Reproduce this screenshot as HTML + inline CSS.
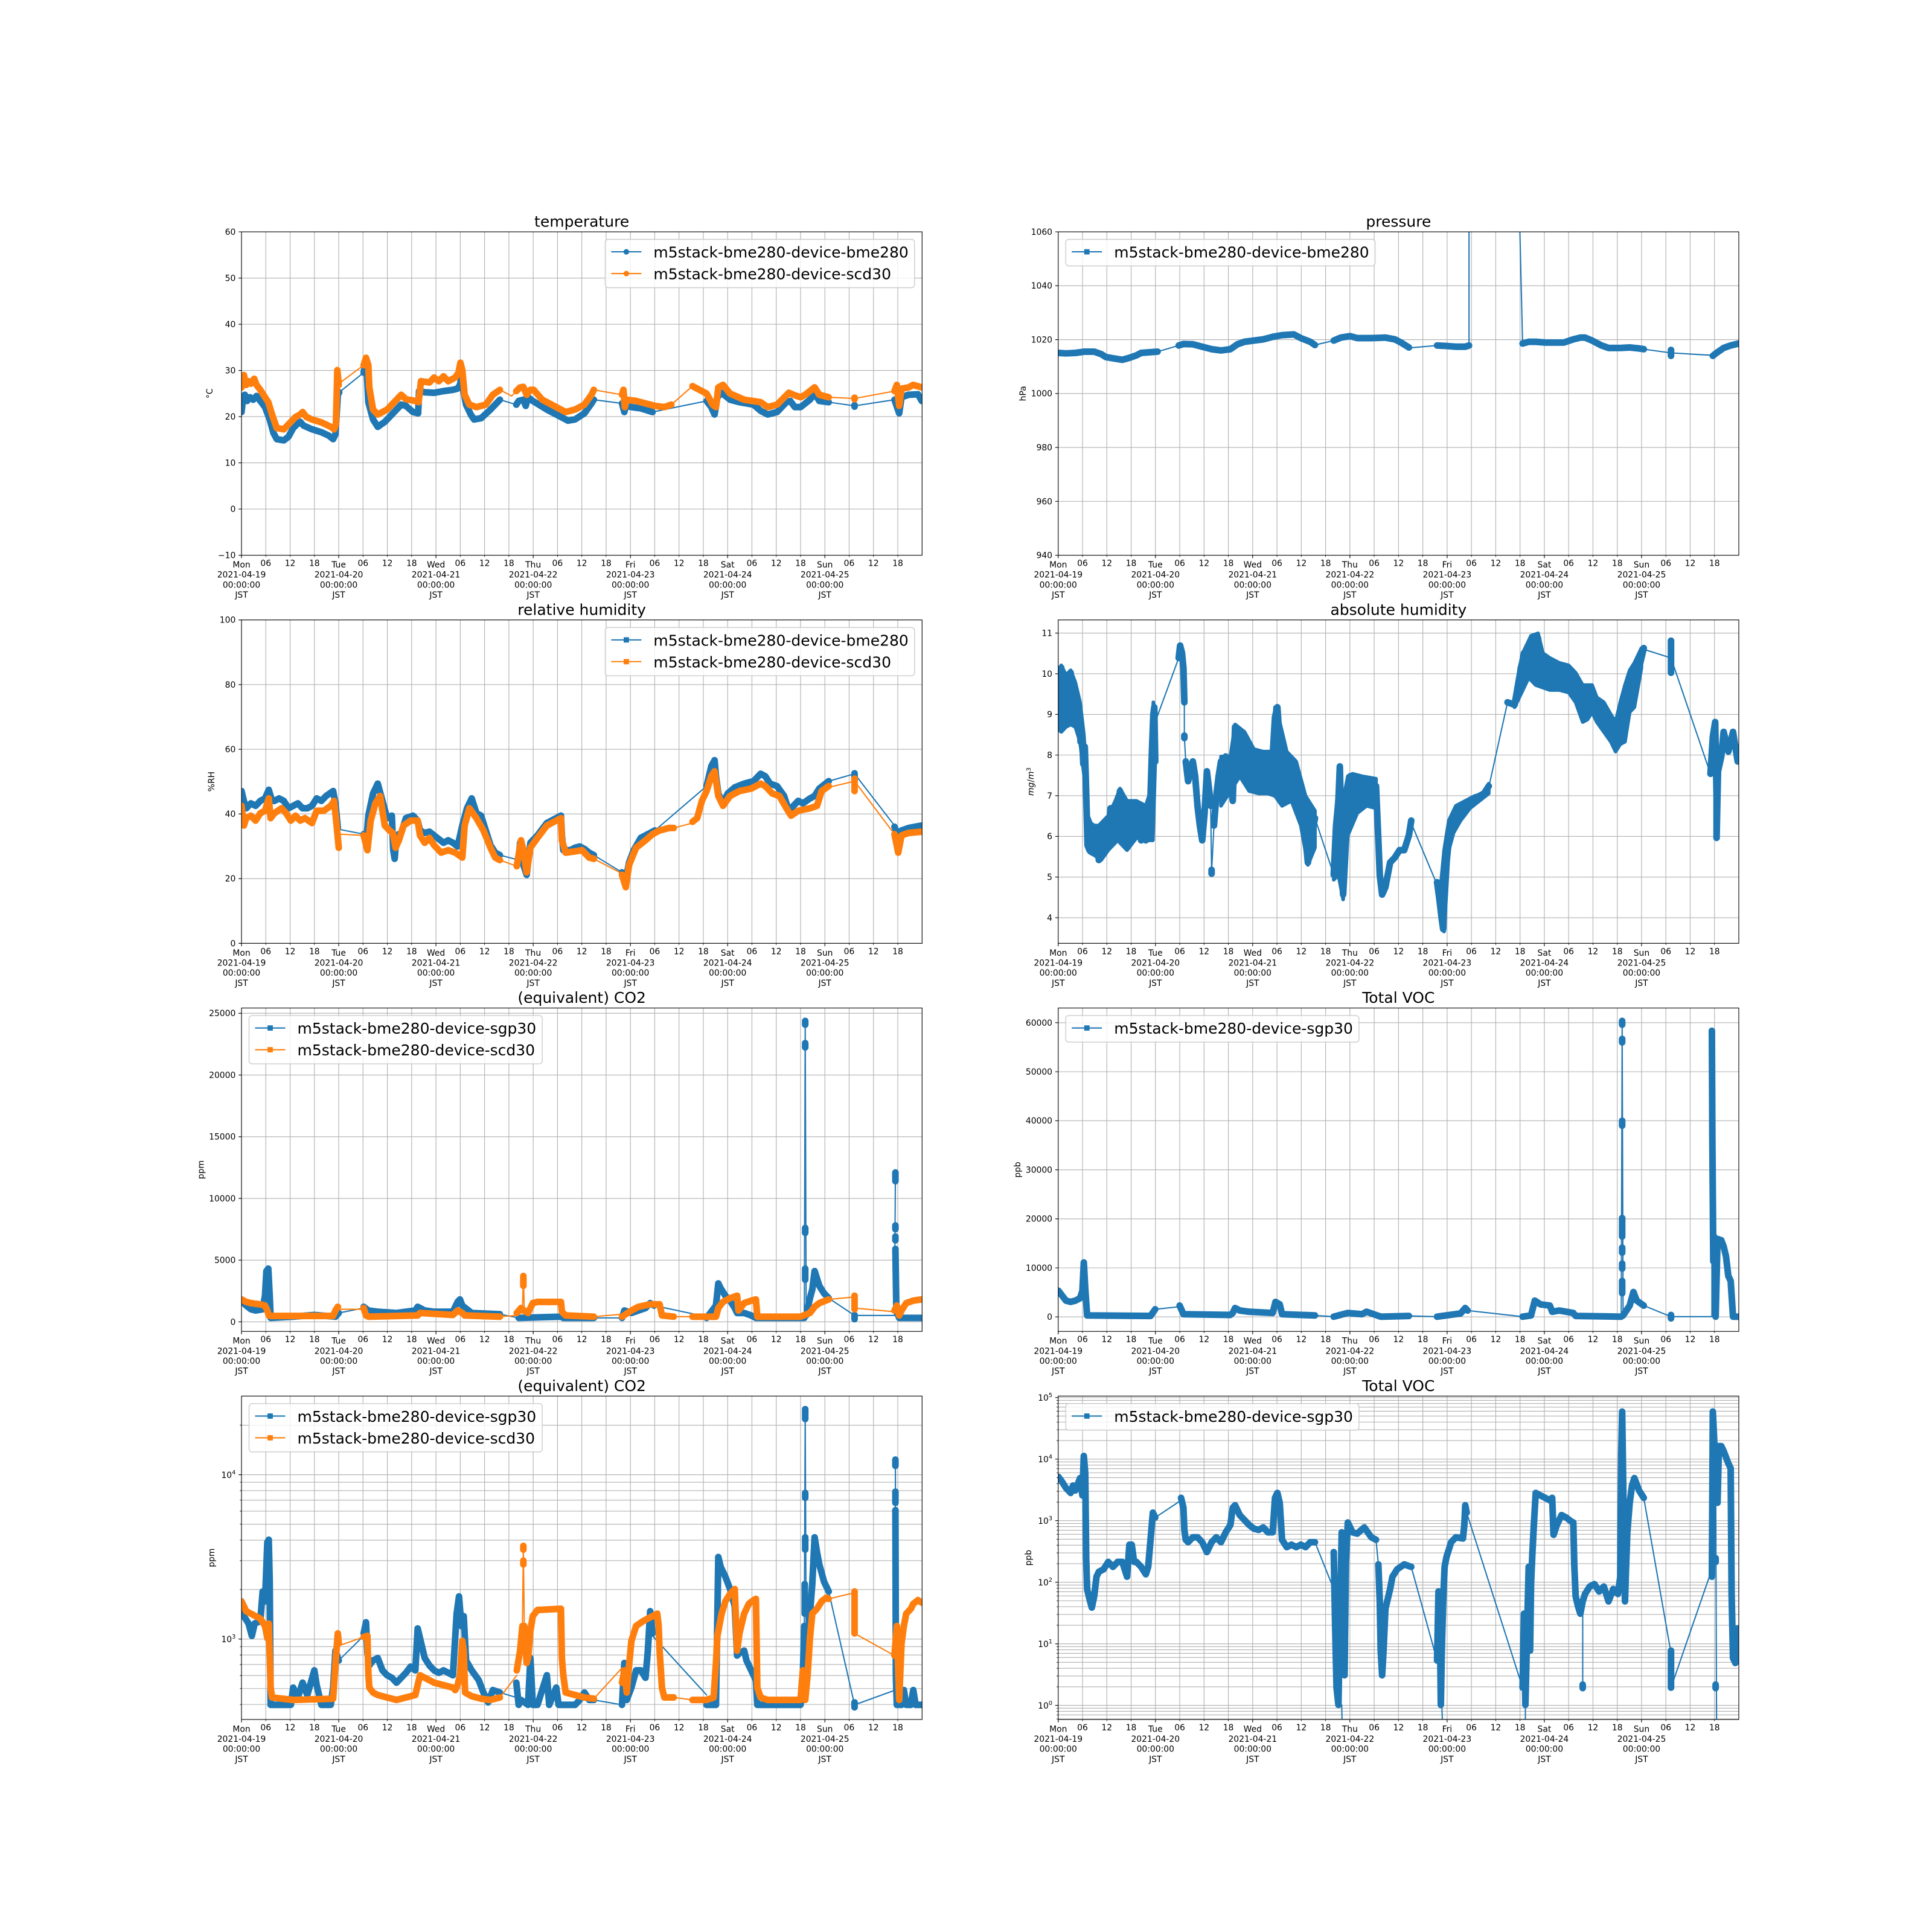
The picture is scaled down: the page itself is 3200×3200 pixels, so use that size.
<!DOCTYPE html>
<html><head><meta charset="utf-8">
<style>
html,body{margin:0;padding:0;background:#fff;width:3200px;height:3200px;overflow:hidden}
svg{display:block}
text{font-family:"DejaVu Sans","Liberation Sans",sans-serif;fill:#000}
.t{font-size:13.89px}
.ti{font-size:25px}
.lg{font-size:25px}
.g{fill:none;stroke:#b0b0b0;stroke-width:1.11}
.k{fill:none;stroke:#000;stroke-width:1.11}
.km{fill:none;stroke:#000;stroke-width:0.83}
polyline{fill:none;vector-effect:non-scaling-stroke;stroke-linejoin:round;stroke-linecap:round}
.cl{fill:#1f77b4;stroke:#1f77b4;stroke-width:6px;vector-effect:non-scaling-stroke;stroke-linejoin:round}
.b{stroke:#1f77b4}.o{stroke:#ff7f0e}
.w{stroke-width:2.08px}
.T{stroke-width:11px}
.fr{fill:#fff;fill-opacity:0.8;stroke:#ccc;stroke-width:1.39}
</style></head><body>
<svg width="3200" height="3200" viewBox="0 0 3200 3200">
<defs>
<clipPath id="c1"><rect x="400" y="384" width="1127.27" height="535.65"/></clipPath>
<clipPath id="c2"><rect x="1752.73" y="384" width="1127.27" height="535.65"/></clipPath>
<clipPath id="c3"><rect x="400" y="1026.78" width="1127.27" height="535.65"/></clipPath>
<clipPath id="c4"><rect x="1752.73" y="1026.78" width="1127.27" height="535.65"/></clipPath>
<clipPath id="c5"><rect x="400" y="1669.57" width="1127.27" height="535.65"/></clipPath>
<clipPath id="c6"><rect x="1752.73" y="1669.57" width="1127.27" height="535.65"/></clipPath>
<clipPath id="c7"><rect x="400" y="2312.35" width="1127.27" height="535.65"/></clipPath>
<clipPath id="c8"><rect x="1752.73" y="2312.35" width="1127.27" height="535.65"/></clipPath>
<path id="vg" d="M40.26 0V535.65M80.52 0V535.65M120.78 0V535.65M161.04 0V535.65M201.3 0V535.65M241.56 0V535.65M281.82 0V535.65M322.08 0V535.65M362.34 0V535.65M402.6 0V535.65M442.86 0V535.65M483.12 0V535.65M523.38 0V535.65M563.64 0V535.65M603.9 0V535.65M644.16 0V535.65M684.42 0V535.65M724.68 0V535.65M764.94 0V535.65M805.19 0V535.65M845.45 0V535.65M885.71 0V535.65M925.97 0V535.65M966.23 0V535.65M1006.49 0V535.65M1046.75 0V535.65M1087.01 0V535.65"/>
<path id="xtM" d="M0 0v4.86M161.04 0v4.86M322.08 0v4.86M483.12 0v4.86M644.16 0v4.86M805.19 0v4.86M966.23 0v4.86"/>
<path id="xtm" d="M40.26 0v2.78M80.52 0v2.78M120.78 0v2.78M201.3 0v2.78M241.56 0v2.78M281.82 0v2.78M362.34 0v2.78M402.6 0v2.78M442.86 0v2.78M523.38 0v2.78M563.64 0v2.78M603.9 0v2.78M684.42 0v2.78M724.68 0v2.78M764.94 0v2.78M845.45 0v2.78M885.71 0v2.78M925.97 0v2.78M1006.49 0v2.78M1046.75 0v2.78M1087.01 0v2.78"/>
</defs>

<!-- ================= GRIDS ================= -->
<g transform="translate(400,384)"><use href="#vg" class="g"/><path class="g" d="M0 76.52H1127.27M0 153.04H1127.27M0 229.56H1127.27M0 306.09H1127.27M0 382.61H1127.27M0 459.13H1127.27"/></g>
<g transform="translate(1752.73,384)"><use href="#vg" class="g"/><path class="g" d="M0 89.28H1127.27M0 178.55H1127.27M0 267.83H1127.27M0 357.1H1127.27M0 446.38H1127.27"/></g>
<g transform="translate(400,1026.78)"><use href="#vg" class="g"/><path class="g" d="M0 107.13H1127.27M0 214.26H1127.27M0 321.39H1127.27M0 428.52H1127.27"/></g>
<g transform="translate(1752.73,1026.78)"><use href="#vg" class="g"/><path class="g" d="M0 21.79H1127.27M0 89.14H1127.27M0 156.49H1127.27M0 223.84H1127.27M0 291.19H1127.27M0 358.54H1127.27M0 425.89H1127.27M0 493.24H1127.27"/></g>
<g transform="translate(400,1669.57)"><use href="#vg" class="g"/><path class="g" d="M0 8.77H1127.27M0 110.98H1127.27M0 213.19H1127.27M0 315.4H1127.27M0 417.61H1127.27M0 519.82H1127.27"/></g>
<g transform="translate(1752.73,1669.57)"><use href="#vg" class="g"/><path class="g" d="M0 24.33H1127.27M0 105.55H1127.27M0 186.77H1127.27M0 267.99H1127.27M0 349.21H1127.27M0 430.43H1127.27M0 511.65H1127.27"/></g>
<g transform="translate(400,2312.35)"><use href="#vg" class="g"/><path class="g" d="M0 130.21H1127.27M0 402.45H1127.27M0 48.25H1127.27M0 142.67H1127.27M0 156.6H1127.27M0 172.39H1127.27M0 190.62H1127.27M0 212.17H1127.27M0 238.55H1127.27M0 272.56H1127.27M0 320.5H1127.27M0 414.91H1127.27M0 428.83H1127.27M0 444.62H1127.27M0 462.85H1127.27M0 484.4H1127.27M0 510.78H1127.27"/></g>
<g transform="translate(1752.73,2312.35)"><use href="#vg" class="g"/><path class="g" d="M0 2.45H1127.27M0 104.41H1127.27M0 206.37H1127.27M0 308.33H1127.27M0 410.29H1127.27M0 512.25H1127.27M0 534.87H1127.27M0 528.04H1127.27M0 522.13H1127.27M0 516.92H1127.27M0 481.56H1127.27M0 463.6H1127.27M0 450.86H1127.27M0 440.98H1127.27M0 432.91H1127.27M0 426.08H1127.27M0 420.17H1127.27M0 414.96H1127.27M0 379.6H1127.27M0 361.64H1127.27M0 348.9H1127.27M0 339.02H1127.27M0 330.95H1127.27M0 324.12H1127.27M0 318.21H1127.27M0 313H1127.27M0 277.64H1127.27M0 259.68H1127.27M0 246.94H1127.27M0 237.06H1127.27M0 228.99H1127.27M0 222.16H1127.27M0 216.25H1127.27M0 211.04H1127.27M0 175.68H1127.27M0 157.72H1127.27M0 144.98H1127.27M0 135.1H1127.27M0 127.03H1127.27M0 120.2H1127.27M0 114.29H1127.27M0 109.08H1127.27M0 73.72H1127.27M0 55.76H1127.27M0 43.02H1127.27M0 33.14H1127.27M0 25.07H1127.27M0 18.24H1127.27M0 12.33H1127.27M0 7.12H1127.27"/></g>

<!-- ================= DATA ================= -->
<!-- 1 temperature -->
<g clip-path="url(#c1)"><g transform="matrix(0.778061 0 0 0.408163 330 360)">
<polyline class="b T" points="90,790 93,740 97,720 102,745 108,730 115,740 122,725 130,745 140,770 150,820 158,875 165,900 180,905 190,890 200,855 208,840 215,830 222,845 240,860 260,872 275,885 285,900 290,880 295,720 298,710"/>
<polyline class="b w" points="298,710 350,630"/>
<polyline class="b T" points="350,630 353,600 357,640 360,750 370,820 380,850 395,830 410,800 430,760 440,765 455,790 466,795 468,705 480,710 500,712 520,705 540,700 550,695 555,680 558,650 562,700 568,760 578,800 585,820 600,815 620,780 640,740"/>
<polyline class="b w" points="640,740 675,760"/>
<polyline class="b T" points="675,760 680,745 690,740 695,765 700,730 710,745 740,780 770,810 785,825 800,820 820,795 835,755 840,740"/>
<polyline class="b w" points="840,740 900,755"/>
<polyline class="b T" points="900,755 905,790 908,765 920,770 940,775 965,790"/>
<polyline class="b w" points="965,790 1080,745"/>
<polyline class="b T" points="1080,745 1090,770 1097,800 1103,730 1112,712 1130,740 1150,750 1180,760 1195,785 1210,800 1230,790 1250,750 1258,745 1268,770 1280,770 1300,740 1310,715 1320,745 1340,750"/>
<polyline class="b w" points="1340,750 1395,765 1480,740"/>
<polyline class="b T" points="1395,762 1395,768"/>
<polyline class="b T" points="1480,740 1490,795 1495,730 1510,720 1530,718 1538,745"/>
<polyline class="o T" points="90,690 95,640 100,680 105,665 110,675 117,655 122,680 130,700 140,730 147,750 155,800 165,855 180,860 195,830 205,810 215,800 220,790 228,810 240,820 260,832 280,850 287,860 291,840 294,620 297,680"/>
<polyline class="o w" points="297,675 350,600"/>
<polyline class="o T" points="350,600 355,570 360,600 362,690 370,780 380,800 400,780 420,740 430,720 440,738 460,745 467,750 470,700 472,665 490,670 500,650 510,665 520,645 530,665 545,650 552,630 556,590 560,620 565,720 575,760 590,770 610,760 625,720 640,700"/>
<polyline class="o w" points="640,700 665,725 675,705"/>
<polyline class="o T" points="675,705 683,690 690,688 697,720 705,700 712,700 730,740 760,770 780,790 800,780 820,760 835,720 840,700"/>
<polyline class="o w" points="840,700 900,720"/>
<polyline class="o T" points="900,720 903,700 906,770 910,740 930,745 950,755 970,765 990,770 1005,760"/>
<polyline class="o w" points="1005,760 1050,685"/>
<polyline class="o T" points="1050,685 1060,695 1080,715 1093,760 1100,770 1105,690 1115,680 1130,715 1160,740 1195,750 1210,770 1230,760 1255,712 1265,720 1280,730 1290,720 1310,690 1320,720 1340,730"/>
<polyline class="o w" points="1340,730 1395,735 1480,705"/>
<polyline class="o T" points="1395,732 1395,738"/>
<polyline class="o T" points="1480,705 1485,680 1490,765 1495,695 1510,690 1520,680 1538,690"/>
</g></g>

<!-- 2 pressure -->
<g clip-path="url(#c2)"><g transform="matrix(0.778061 0 0 0.408163 1680 360)">
<polyline class="b T" points="93,550 110,552 130,550 150,545 170,545 185,555 195,567 210,572 230,578 245,570 260,560 270,550 285,548 305,545"/>
<polyline class="b w" points="305,545 350,520"/>
<polyline class="b T" points="350,520 360,514 380,515 400,525 420,535 440,540 460,535 475,515 490,505 510,500 530,495 550,485 570,478 595,475 610,490 630,505 640,518"/>
<polyline class="b w" points="640,518 680,500"/>
<polyline class="b T" points="680,500 695,488 715,482 730,490 760,490 790,488 810,495 825,510 840,528"/>
<polyline class="b w" points="840,530 900,520"/>
<polyline class="b T" points="900,520 920,522 940,525 960,525 968,520"/>
<polyline class="b w" points="968,520 968,-200"/>
<polyline class="b w" points="1073,-200 1082,510"/>
<polyline class="b T" points="1082,512 1095,505 1110,505 1130,508 1150,508 1170,508 1190,495 1205,488 1215,488 1230,500 1250,520 1265,530 1290,530 1310,528 1330,532 1340,535"/>
<polyline class="b w" points="1340,535 1398,550 1487,560"/>
<polyline class="b T" points="1398,538 1398,562"/>
<polyline class="b T" points="1487,562 1495,550 1510,530 1525,520 1542,512"/>
</g></g>

<!-- 3 relative humidity -->
<g clip-path="url(#c3)"><g transform="matrix(0.778061 0 0 0.408163 330 1000)">
<polyline class="b T" points="90,760 95,800 100,830 110,810 120,820 130,800 140,790 148,755 155,800 160,800 170,790 180,800 190,830 200,820 210,810 220,830 230,830 240,820 250,790 260,800 270,780 285,760 290,810 295,910"/>
<polyline class="b w" points="297,915 350,935"/>
<polyline class="b T" points="350,935 355,975 360,860 370,770 380,730 390,800 400,870 410,860 413,1000 416,1035 420,940 430,930 440,870 455,860 465,880 470,920 480,930 490,925 500,940 510,955 520,970 530,960 540,970 550,985 560,900 570,830 580,790 590,850 600,860 610,920 620,980 630,1010 640,1020"/>
<polyline class="b w" points="640,1020 680,1040"/>
<polyline class="b T" points="680,1040 683,970 690,1060 697,1100 705,970 720,940 740,890 760,870 770,860 772,940 775,1000 790,1000 800,990 810,985 820,995 830,1010 840,1020"/>
<polyline class="b w" points="840,1020 900,1090"/>
<polyline class="b T" points="900,1090 905,1130 910,1100 915,1050 925,1000 940,950 960,930 970,920"/>
<polyline class="b w" points="970,920 1080,740"/>
<polyline class="b T" points="1080,740 1085,700 1090,660 1097,635 1100,700 1105,770 1115,810 1125,770 1140,745 1160,730 1180,720 1195,690 1205,700 1215,730 1230,740 1245,780 1255,840 1265,820 1275,800 1285,810 1300,790 1310,780 1320,750 1340,720"/>
<polyline class="b w" points="1340,720 1395,690 1480,900"/>
<polyline class="b T" points="1395,688 1395,720"/>
<polyline class="b T" points="1480,905 1490,950 1495,920 1510,910 1538,900"/>
<polyline class="o T" points="90,820 95,900 100,870 110,860 120,880 130,850 140,840 148,790 152,870 160,850 175,830 185,850 195,880 205,860 215,880 225,870 240,890 250,840 265,840 280,820 287,800 292,890 297,990"/>
<polyline class="o w" points="297,935 350,940"/>
<polyline class="o T" points="350,940 358,1000 365,880 375,810 385,780 395,900 405,920 412,930 418,990 425,960 435,900 450,880 465,880 470,940 480,970 490,950 500,980 515,1010 530,1000 545,1010 560,1030 565,900 575,830 590,870 605,920 620,990 630,1030 640,1040"/>
<polyline class="o w" points="640,1040 676,1065"/>
<polyline class="o T" points="676,1065 685,960 690,1000 697,1090 705,990 720,950 740,900 760,880 770,870 772,960 780,1010 800,1005 815,1000 830,1030 840,1035"/>
<polyline class="o w" points="840,1035 900,1095"/>
<polyline class="o T" points="900,1100 908,1150 915,1060 930,990 950,960 965,935 980,920 1000,910 1010,910"/>
<polyline class="o w" points="1010,910 1050,890"/>
<polyline class="o T" points="1050,885 1060,870 1070,800 1080,760 1090,700 1097,680 1105,780 1115,820 1130,780 1150,760 1175,750 1195,730 1205,740 1220,770 1235,780 1250,830 1260,860 1275,840 1300,830 1315,820 1325,760 1340,740"/>
<polyline class="o w" points="1340,745 1395,720 1480,935"/>
<polyline class="o T" points="1395,710 1395,760"/>
<polyline class="o T" points="1480,935 1488,1010 1495,940 1510,930 1538,925"/>
</g></g>

<!-- 4 absolute humidity -->
<g clip-path="url(#c4)"><g transform="matrix(0.778061 0 0 0.408163 1680 1000)">
<polygon class="cl" points="94,320 100,250 110,290 120,270 130,320 140,400 148,530 152,650 155,850 150,720 145,640 140,560 130,500 120,490 110,500 100,520 94,510"/>
<polygon class="cl" points="155,850 165,900 180,900 200,860 215,800 225,750 240,800 260,800 280,820 290,760 296,400 300,640 295,960 280,960 260,950 240,1000 220,960 200,1000 185,1040 170,1020 160,1010"/>
<polygon class="cl" points="440,620 460,620 470,490 490,520 510,590 530,600 550,600 555,420 565,480 580,600 600,640 620,780 640,840 640,990 625,1060 610,900 590,800 570,820 555,780 540,770 520,770 500,760 480,700 460,760 440,820"/>
<polygon class="cl" points="685,850 690,700 700,800 710,700 720,690 740,700 770,710 770,830 750,820 730,850 710,940 700,1200 690,1100 680,1120"/>
<polygon class="cl" points="915,1000 925,880 940,820 960,800 980,780 1000,770 1010,730 1010,770 990,800 970,830 950,880 935,930 925,1000 915,1330 905,1200"/>
<polygon class="cl" points="1075,260 1085,190 1100,130 1115,120 1125,200 1140,220 1160,240 1180,250 1195,280 1210,330 1230,330 1240,380 1255,400 1270,450 1280,480 1290,400 1300,330 1310,270 1320,240 1335,180 1335,260 1320,420 1310,440 1300,560 1290,570 1280,600 1270,560 1255,520 1240,480 1230,440 1220,470 1210,480 1195,400 1180,360 1160,350 1140,350 1125,340 1110,330 1095,300 1085,340 1075,380 1065,420"/>
<polyline class="b T" points="94,500 97,320 100,260 103,480 107,350 110,430 113,300 117,480 120,280 123,460 126,350 129,480 132,380 135,500 138,420 141,560 144,530 147,650 150,580 152,700 154,840 156,980 160,1000 165,900 170,1010 175,920 180,1040 185,940 190,1000 195,880 200,960 205,830 210,960 215,820 220,930 225,760 230,900 235,810 240,990 245,860 250,950 255,820 260,920 265,850 270,960 275,860 280,960 285,900 290,780 293,600 296,450 298,420 300,640"/>
<polyline class="b w" points="300,480 350,220"/>
<polyline class="b T" points="350,220 353,170 357,200 360,260 362,400"/>
<polyline class="b w" points="362,400 362,540 365,640"/>
<polyline class="b T" points="362,535 362,545"/>
<polyline class="b T" points="365,640 370,720 380,640 385,700 390,820 395,900 400,960 405,850 410,680 415,760 418,820"/>
<polyline class="b w" points="418,820 420,1090 425,900"/>
<polyline class="b T" points="420,1080 420,1095"/>
<polyline class="b T" points="425,900 430,780 435,700 440,640 445,700 450,620 460,720 465,800 470,500 475,560 480,520 490,600 500,680 510,620 520,750 530,640 540,720 550,620 555,460 560,420 565,560 570,800 575,680 580,620 585,640 590,750 600,700 605,820 610,880 615,850 620,950 625,1050 630,980 640,870"/>
<polyline class="b w" points="640,870 680,1100"/>
<polyline class="b T" points="680,1100 685,900 690,800 693,660 697,1000 700,1180 705,1000 710,800 715,700 725,820 735,760 745,720 755,760 765,800 770,740 775,960 778,1100 783,1180 790,1150 800,1050 810,1030 820,1000 830,1000 840,940 845,880"/>
<polyline class="b w" points="845,890 900,1140"/>
<polyline class="b T" points="900,1130 905,1200 910,1280 913,1320 915,1180 920,1050 925,960 930,900 940,870 950,840 960,830 970,800 980,790 990,780 1000,770 1010,740"/>
<polyline class="b w" points="1010,745 1050,400"/>
<polyline class="b T" points="1050,400 1065,410 1075,300 1085,200 1095,250 1105,140 1115,140 1120,250 1130,300 1140,240 1150,330 1160,260 1170,330 1180,270 1190,340 1200,380 1210,430 1220,410 1230,380 1240,440 1250,480 1260,470 1270,530 1280,560 1290,520 1300,450 1310,400 1315,290 1320,320 1330,260 1340,180"/>
<polyline class="b w" points="1340,185 1398,220"/>
<polyline class="b T" points="1398,150 1398,280"/>
<polyline class="b w" points="1398,220 1482,690"/>
<polyline class="b T" points="1482,690 1487,540 1492,480 1495,780 1495,950 1498,680 1505,620 1510,520 1520,600 1530,520 1540,640"/>
</g></g>

<!-- 5 CO2 linear -->
<g clip-path="url(#c5)"><g transform="matrix(0.778061 0 0 0.408163 330 1640)">
<polyline class="b T" points="90,1260 100,1280 110,1295 120,1300 135,1295 140,1240 143,1140 147,1130 150,1240 152,1330 200,1325 245,1318 290,1325 297,1310"/>
<polyline class="b w" points="297,1310 350,1290"/>
<polyline class="b T" points="350,1285 360,1300 380,1305 420,1310 460,1300 465,1285 480,1300 500,1305 540,1305 550,1265 555,1255 560,1280 580,1310 640,1315"/>
<polyline class="b w" points="640,1315 680,1330"/>
<polyline class="b T" points="680,1330 770,1325 775,1330 840,1330"/>
<polyline class="b w" points="840,1330 900,1330"/>
<polyline class="b T" points="900,1330 905,1300 920,1310 950,1290 960,1270 968,1280"/>
<polyline class="b w" points="968,1280 1080,1325"/>
<polyline class="b T" points="1080,1330 1100,1280 1105,1190 1110,1210 1120,1240 1130,1260 1140,1290 1145,1310 1160,1310 1175,1320 1185,1330 1288,1330"/>
<polyline class="b w" points="1288,1330 1290,128 1292,1320"/>
<polyline class="b T" points="1290,125 1290,140"/>
<polyline class="b T" points="1290,215 1290,232"/>
<polyline class="b T" points="1290,965 1290,985"/>
<polyline class="b T" points="1290,1130 1290,1175"/>
<polyline class="b T" points="1292,1320 1300,1250 1305,1215 1310,1140 1315,1170 1320,1200 1330,1230 1340,1250"/>
<polyline class="b w" points="1340,1250 1395,1320 1480,1320 1482,740"/>
<polyline class="b T" points="1395,1318 1395,1335"/>
<polyline class="b T" points="1482,740 1482,775"/>
<polyline class="b T" points="1482,955 1482,970"/>
<polyline class="b T" points="1482,1000 1482,1015"/>
<polyline class="b T" points="1482,1050 1484,1300 1490,1330 1538,1330"/>
<polyline class="o T" points="90,1255 100,1265 110,1270 130,1275 140,1280 145,1300 148,1320 152,1322 285,1322 290,1300 295,1285"/>
<polyline class="o w" points="297,1295 350,1295"/>
<polyline class="o T" points="350,1290 355,1320 360,1325 465,1320 470,1310 540,1318 550,1300 560,1310 565,1320 640,1325"/>
<polyline class="o w" points="640,1325 676,1320"/>
<polyline class="o T" points="676,1310 685,1290 688,1300"/>
<polyline class="o w" points="688,1300 690,1160 692,1300"/>
<polyline class="o T" points="690,1160 690,1200"/>
<polyline class="o T" points="692,1300 700,1310 705,1290 710,1270 720,1265 770,1265 772,1305 780,1320 840,1325"/>
<polyline class="o w" points="840,1325 900,1315"/>
<polyline class="o T" points="900,1325 920,1300 935,1285 960,1275 980,1275 985,1320 1010,1325"/>
<polyline class="o w" points="1010,1325 1050,1325"/>
<polyline class="o T" points="1050,1325 1100,1325 1105,1290 1115,1265 1130,1250 1145,1240 1148,1300 1160,1270 1175,1260 1185,1255 1188,1325 1280,1325 1300,1310 1310,1285 1320,1270 1340,1255"/>
<polyline class="o w" points="1340,1255 1395,1245 1395,1290 1480,1305"/>
<polyline class="o T" points="1395,1240 1395,1295"/>
<polyline class="o T" points="1480,1300 1485,1280 1490,1320 1495,1300 1505,1270 1520,1260 1538,1255"/>
</g></g>

<!-- 6 TVOC linear -->
<g clip-path="url(#c6)"><g transform="matrix(0.778061 0 0 0.408163 1680 1640)">
<polyline class="b T" points="94,1220 100,1235 110,1260 120,1265 130,1260 140,1250 145,1220 148,1105 151,1210 155,1320 290,1322 300,1295"/>
<polyline class="b w" points="300,1295 350,1285"/>
<polyline class="b T" points="352,1280 360,1315 460,1318 465,1310 470,1290 480,1300 500,1305 550,1310 556,1265 565,1275 570,1315 640,1320"/>
<polyline class="b w" points="640,1320 680,1325"/>
<polyline class="b T" points="680,1325 710,1310 740,1315 750,1305 780,1325 840,1322"/>
<polyline class="b w" points="840,1322 900,1325"/>
<polyline class="b T" points="900,1325 950,1312 960,1290 965,1300"/>
<polyline class="b w" points="965,1300 1082,1325"/>
<polyline class="b T" points="1082,1325 1100,1320 1108,1260 1120,1275 1140,1280 1145,1305 1160,1300 1190,1310 1195,1322 1292,1325"/>
<polyline class="b w" points="1292,1325 1294,130 1296,1320"/>
<polyline class="b T" points="1294,125 1294,140"/>
<polyline class="b T" points="1294,198 1294,212"/>
<polyline class="b T" points="1294,530 1294,550"/>
<polyline class="b T" points="1294,925 1294,1000"/>
<polyline class="b T" points="1294,1045 1294,1065"/>
<polyline class="b T" points="1294,1110 1294,1130"/>
<polyline class="b T" points="1294,1180 1294,1230"/>
<polyline class="b T" points="1296,1320 1310,1280 1318,1225 1325,1260 1340,1280"/>
<polyline class="b w" points="1340,1280 1398,1325 1485,1325 1485,170"/>
<polyline class="b T" points="1398,1318 1398,1332"/>
<polyline class="b T" points="1485,165 1486,600 1488,1100 1490,1000 1493,1325 1497,1010 1505,1015 1510,1040 1515,1080 1520,1160 1525,1180 1530,1325 1542,1325"/>
</g></g>

<!-- 7 CO2 log -->
<g clip-path="url(#c7)"><g transform="matrix(0.778061 0 0 0.408163 330 2285)">
<polyline class="b T" points="90,920 95,960 105,990 112,1040 118,990 130,980 135,860 140,900 145,660 148,650 150,820 152,1320 195,1320 200,1250 210,1290 220,1230 230,1280 245,1180 250,1240 260,1320 280,1320 285,1250 290,1100 297,1140"/>
<polyline class="b w" points="297,1140 350,1040"/>
<polyline class="b T" points="350,1030 355,985 358,1110 362,1160 370,1140 380,1130 390,1180 400,1200 410,1210 420,1230 430,1210 440,1190 450,1165 460,1180 465,1010 470,1050 480,1130 490,1160 500,1180 510,1190 520,1180 540,1200 548,950 553,880 558,1000 563,960 568,1140 580,1180 595,1220 605,1270 615,1310 625,1260 640,1270"/>
<polyline class="b w" points="640,1270 675,1290"/>
<polyline class="b T" points="675,1230 680,1320 685,1300 700,1320 705,1130 710,1320 720,1320 740,1200 745,1320 760,1250 765,1320 800,1320 810,1300 820,1270 830,1300 840,1300"/>
<polyline class="b w" points="840,1300 900,1320"/>
<polyline class="b T" points="900,1320 905,1150 910,1300 920,1250 930,1180 940,1180 950,1210 955,1100 960,940 965,1030"/>
<polyline class="b w" points="965,1040 1080,1280"/>
<polyline class="b T" points="1080,1320 1100,1320 1102,1080 1105,720 1110,760 1120,800 1130,850 1140,920 1145,1120 1150,1110 1160,1100 1165,1140 1175,1180 1185,1220 1188,1320 1280,1320 1285,1200 1288,1000"/>
<polyline class="b w" points="1288,1000 1290,130 1292,1080"/>
<polyline class="b T" points="1290,120 1290,160"/>
<polyline class="b T" points="1290,460 1290,480"/>
<polyline class="b T" points="1290,640 1290,690"/>
<polyline class="b T" points="1289,830 1289,950"/>
<polyline class="b T" points="1292,1080 1298,1000 1305,830 1310,640 1315,700 1320,750 1330,820 1340,860"/>
<polyline class="b w" points="1340,860 1395,1320 1482,1260 1482,335"/>
<polyline class="b T" points="1395,1310 1395,1330"/>
<polyline class="b T" points="1482,325 1482,350"/>
<polyline class="b T" points="1482,455 1482,500"/>
<polyline class="b T" points="1482,530 1483,1200 1485,1320 1495,1320 1500,1260 1505,1320 1515,1320 1520,1260 1525,1320 1538,1320"/>
<polyline class="o T" points="90,900 100,940 110,950 120,960 130,970 140,1000 145,1050 148,990 150,1110 152,1250 155,1290 200,1300 285,1295 290,1150 295,1030 297,1070"/>
<polyline class="o w" points="297,1080 350,1045"/>
<polyline class="o T" points="350,1045 358,1040 360,1190 362,1250 370,1270 380,1280 400,1290 420,1300 440,1290 460,1280 465,1240 470,1200 480,1210 500,1230 520,1240 540,1250 545,1260 550,1240 555,1200 560,1060 563,1100 566,1270 580,1285 600,1295 620,1300 640,1290"/>
<polyline class="o w" points="640,1290 676,1200"/>
<polyline class="o T" points="676,1180 683,1100 688,1000"/>
<polyline class="o w" points="688,1000 690,680 692,1000"/>
<polyline class="o T" points="690,675 690,690"/>
<polyline class="o T" points="690,735 690,750"/>
<polyline class="o T" points="692,1000 697,1150 700,1130 705,1020 710,960 720,935 770,930 772,1130 775,1200 780,1270 800,1280 820,1290 840,1295"/>
<polyline class="o w" points="840,1295 900,1170"/>
<polyline class="o T" points="900,1230 905,1180 910,1270 915,1160 920,1060 930,1000 945,980 960,965 975,950 978,1000 980,1100 985,1250 990,1290 1010,1290"/>
<polyline class="o w" points="1010,1290 1050,1300"/>
<polyline class="o T" points="1050,1300 1080,1300 1095,1290 1100,1150 1103,1040 1107,1000 1112,950 1120,900 1130,870 1140,850 1143,1000 1145,1100 1150,1030 1160,950 1170,910 1180,895 1185,890 1188,1250 1195,1290 1210,1300 1280,1300 1285,1180 1290,1300 1295,1200 1300,1050 1305,950 1315,930 1325,900 1335,885 1340,890"/>
<polyline class="o w" points="1340,890 1395,865 1395,1030 1480,1120"/>
<polyline class="o T" points="1395,860 1395,1030"/>
<polyline class="o T" points="1480,1120 1485,1000 1490,1300 1495,1070 1500,1000 1505,950 1515,930 1520,910 1530,895 1538,905"/>
</g></g>

<!-- 8 TVOC log -->
<g clip-path="url(#c8)"><g transform="matrix(0.778061 0 0 0.408163 1680 2285)">
<polyline class="b T" points="94,395 100,410 110,440 120,460 125,430 130,450 140,400 145,470 148,310 151,380 153,725 155,850 160,890 165,925 170,880 175,800 180,780 190,770 200,740 210,760 220,740 230,740 240,800 245,670 250,670 255,740 260,740 270,760 280,790 285,760 290,650 295,540 300,560"/>
<polyline class="b w" points="300,560 355,490"/>
<polyline class="b T" points="355,480 360,520 362,610 365,650 370,660 380,640 390,640 400,660 410,700 420,660 430,640 440,660 450,620 460,590 465,520 470,510 480,550 490,570 500,590 510,605 520,610 530,600 540,620 550,620 555,480 560,460 565,500 570,650 580,680 590,670 600,680 610,670 620,680 630,660 640,660"/>
<polyline class="b w" points="640,660 680,850"/>
<polyline class="b T" points="680,700 683,1000 686,1250 690,1320 693,1000 697,620 700,900 703,1200 706,740 710,580 720,620 730,625 745,600 760,640 770,650"/>
<polyline class="b w" points="697,1320 698,1420"/>
<polyline class="b w" points="770,650 775,750"/>
<polyline class="b T" points="775,750 778,900 780,1100 783,1200 786,1100 790,930 800,850 805,800 815,770 830,750 845,760"/>
<polyline class="b w" points="845,760 900,1140"/>
<polyline class="b T" points="900,1140 903,860 906,1000 908,1320 910,1100 913,900 916,760 920,720 930,660 940,640 955,645 958,590 960,510 963,540"/>
<polyline class="b w" points="910,1320 912,1420"/>
<polyline class="b w" points="963,540 1082,1250"/>
<polyline class="b T" points="1082,1250 1085,950 1088,1320 1092,1000 1095,760 1098,1100 1100,830 1103,700 1106,590 1110,460 1120,470 1130,480 1140,490 1145,480 1148,630 1155,590 1165,550 1175,560 1185,575 1190,580 1192,750 1195,880 1200,920 1205,950 1210,900 1215,870 1225,840 1235,830 1245,860 1255,840 1265,900 1275,850 1285,870 1290,800 1292,300 1294,130 1296,400 1298,650 1300,900 1302,780 1305,620 1310,500 1315,430 1320,400 1330,450 1340,480"/>
<polyline class="b w" points="1088,1320 1088,1420"/>
<polyline class="b w" points="1210,900 1210,1245"/>
<polyline class="b T" points="1210,1238 1210,1252"/>
<polyline class="b w" points="1340,480 1398,1110 1398,1250 1485,770"/>
<polyline class="b T" points="1398,1100 1398,1250"/>
<polyline class="b T" points="1485,800 1487,130 1490,250 1493,320 1497,500 1500,270 1505,270 1510,290 1520,340 1525,360 1527,870 1530,1130 1535,1150 1540,1010"/>
<polyline class="b w" points="1493,320 1495,1420"/>
<polyline class="b T" points="1493,1238 1493,1252"/>
<polyline class="b T" points="1493,725 1493,740"/>
</g></g>

<!-- ================= AXES: spines, ticks, labels ================= -->
<!-- A1 -->
<g transform="translate(400,384)">
<rect class="k" x="0" y="0" width="1127.27" height="535.65"/>
<path class="k" d="M-4.86 0H0M-4.86 76.52H0M-4.86 153.04H0M-4.86 229.56H0M-4.86 306.09H0M-4.86 382.61H0M-4.86 459.13H0M-4.86 535.65H0"/>
<g class="t" text-anchor="end"><text x="-9.72" y="4.9">60</text><text x="-9.72" y="81.42">50</text><text x="-9.72" y="157.94">40</text><text x="-9.72" y="234.46">30</text><text x="-9.72" y="310.99">20</text><text x="-9.72" y="387.51">10</text><text x="-9.72" y="464.03">0</text><text x="-9.72" y="540.55">−10</text></g>
</g>
<g transform="translate(400,919.65)">
<use href="#xtM" class="k"/><use href="#xtm" class="km"/>
<g class="t" text-anchor="middle">
<text y="18"><tspan x="40.26">06</tspan><tspan x="80.52">12</tspan><tspan x="120.78">18</tspan><tspan x="201.3">06</tspan><tspan x="241.56">12</tspan><tspan x="281.82">18</tspan><tspan x="362.34">06</tspan><tspan x="402.6">12</tspan><tspan x="442.86">18</tspan><tspan x="523.38">06</tspan><tspan x="563.64">12</tspan><tspan x="603.9">18</tspan><tspan x="684.42">06</tspan><tspan x="724.68">12</tspan><tspan x="764.94">18</tspan><tspan x="845.45">06</tspan><tspan x="885.71">12</tspan><tspan x="925.97">18</tspan><tspan x="1006.49">06</tspan><tspan x="1046.75">12</tspan><tspan x="1087.01">18</tspan></text>
<text><tspan x="0" y="20.4">Mon</tspan><tspan x="0" y="37.07">2021-04-19</tspan><tspan x="0" y="53.73">00:00:00</tspan><tspan x="0" y="70.4">JST</tspan></text>
<text><tspan x="161.04" y="20.4">Tue</tspan><tspan x="161.04" y="37.07">2021-04-20</tspan><tspan x="161.04" y="53.73">00:00:00</tspan><tspan x="161.04" y="70.4">JST</tspan></text>
<text><tspan x="322.08" y="20.4">Wed</tspan><tspan x="322.08" y="37.07">2021-04-21</tspan><tspan x="322.08" y="53.73">00:00:00</tspan><tspan x="322.08" y="70.4">JST</tspan></text>
<text><tspan x="483.12" y="20.4">Thu</tspan><tspan x="483.12" y="37.07">2021-04-22</tspan><tspan x="483.12" y="53.73">00:00:00</tspan><tspan x="483.12" y="70.4">JST</tspan></text>
<text><tspan x="644.16" y="20.4">Fri</tspan><tspan x="644.16" y="37.07">2021-04-23</tspan><tspan x="644.16" y="53.73">00:00:00</tspan><tspan x="644.16" y="70.4">JST</tspan></text>
<text><tspan x="805.19" y="20.4">Sat</tspan><tspan x="805.19" y="37.07">2021-04-24</tspan><tspan x="805.19" y="53.73">00:00:00</tspan><tspan x="805.19" y="70.4">JST</tspan></text>
<text><tspan x="966.23" y="20.4">Sun</tspan><tspan x="966.23" y="37.07">2021-04-25</tspan><tspan x="966.23" y="53.73">00:00:00</tspan><tspan x="966.23" y="70.4">JST</tspan></text>
</g></g>

<!-- A2 -->
<g transform="translate(1752.73,384)">
<rect class="k" x="0" y="0" width="1127.27" height="535.65"/>
<path class="k" d="M-4.86 0H0M-4.86 89.28H0M-4.86 178.55H0M-4.86 267.83H0M-4.86 357.1H0M-4.86 446.38H0M-4.86 535.65H0"/>
<g class="t" text-anchor="end"><text x="-9.72" y="4.9">1060</text><text x="-9.72" y="94.18">1040</text><text x="-9.72" y="183.45">1020</text><text x="-9.72" y="272.73">1000</text><text x="-9.72" y="362">980</text><text x="-9.72" y="451.28">960</text><text x="-9.72" y="540.55">940</text></g>
</g>
<g transform="translate(1752.73,919.65)">
<use href="#xtM" class="k"/><use href="#xtm" class="km"/>
<g class="t" text-anchor="middle">
<text y="18"><tspan x="40.26">06</tspan><tspan x="80.52">12</tspan><tspan x="120.78">18</tspan><tspan x="201.3">06</tspan><tspan x="241.56">12</tspan><tspan x="281.82">18</tspan><tspan x="362.34">06</tspan><tspan x="402.6">12</tspan><tspan x="442.86">18</tspan><tspan x="523.38">06</tspan><tspan x="563.64">12</tspan><tspan x="603.9">18</tspan><tspan x="684.42">06</tspan><tspan x="724.68">12</tspan><tspan x="764.94">18</tspan><tspan x="845.45">06</tspan><tspan x="885.71">12</tspan><tspan x="925.97">18</tspan><tspan x="1006.49">06</tspan><tspan x="1046.75">12</tspan><tspan x="1087.01">18</tspan></text>
<text><tspan x="0" y="20.4">Mon</tspan><tspan x="0" y="37.07">2021-04-19</tspan><tspan x="0" y="53.73">00:00:00</tspan><tspan x="0" y="70.4">JST</tspan></text>
<text><tspan x="161.04" y="20.4">Tue</tspan><tspan x="161.04" y="37.07">2021-04-20</tspan><tspan x="161.04" y="53.73">00:00:00</tspan><tspan x="161.04" y="70.4">JST</tspan></text>
<text><tspan x="322.08" y="20.4">Wed</tspan><tspan x="322.08" y="37.07">2021-04-21</tspan><tspan x="322.08" y="53.73">00:00:00</tspan><tspan x="322.08" y="70.4">JST</tspan></text>
<text><tspan x="483.12" y="20.4">Thu</tspan><tspan x="483.12" y="37.07">2021-04-22</tspan><tspan x="483.12" y="53.73">00:00:00</tspan><tspan x="483.12" y="70.4">JST</tspan></text>
<text><tspan x="644.16" y="20.4">Fri</tspan><tspan x="644.16" y="37.07">2021-04-23</tspan><tspan x="644.16" y="53.73">00:00:00</tspan><tspan x="644.16" y="70.4">JST</tspan></text>
<text><tspan x="805.19" y="20.4">Sat</tspan><tspan x="805.19" y="37.07">2021-04-24</tspan><tspan x="805.19" y="53.73">00:00:00</tspan><tspan x="805.19" y="70.4">JST</tspan></text>
<text><tspan x="966.23" y="20.4">Sun</tspan><tspan x="966.23" y="37.07">2021-04-25</tspan><tspan x="966.23" y="53.73">00:00:00</tspan><tspan x="966.23" y="70.4">JST</tspan></text>
</g></g>

<!-- A3 -->
<g transform="translate(400,1026.78)">
<rect class="k" x="0" y="0" width="1127.27" height="535.65"/>
<path class="k" d="M-4.86 0H0M-4.86 107.13H0M-4.86 214.26H0M-4.86 321.39H0M-4.86 428.52H0M-4.86 535.65H0"/>
<g class="t" text-anchor="end"><text x="-9.72" y="4.9">100</text><text x="-9.72" y="112.03">80</text><text x="-9.72" y="219.16">60</text><text x="-9.72" y="326.29">40</text><text x="-9.72" y="433.42">20</text><text x="-9.72" y="540.55">0</text></g>
</g>
<g transform="translate(400,1562.43)">
<use href="#xtM" class="k"/><use href="#xtm" class="km"/>
<g class="t" text-anchor="middle">
<text y="18"><tspan x="40.26">06</tspan><tspan x="80.52">12</tspan><tspan x="120.78">18</tspan><tspan x="201.3">06</tspan><tspan x="241.56">12</tspan><tspan x="281.82">18</tspan><tspan x="362.34">06</tspan><tspan x="402.6">12</tspan><tspan x="442.86">18</tspan><tspan x="523.38">06</tspan><tspan x="563.64">12</tspan><tspan x="603.9">18</tspan><tspan x="684.42">06</tspan><tspan x="724.68">12</tspan><tspan x="764.94">18</tspan><tspan x="845.45">06</tspan><tspan x="885.71">12</tspan><tspan x="925.97">18</tspan><tspan x="1006.49">06</tspan><tspan x="1046.75">12</tspan><tspan x="1087.01">18</tspan></text>
<text><tspan x="0" y="20.4">Mon</tspan><tspan x="0" y="37.07">2021-04-19</tspan><tspan x="0" y="53.73">00:00:00</tspan><tspan x="0" y="70.4">JST</tspan></text>
<text><tspan x="161.04" y="20.4">Tue</tspan><tspan x="161.04" y="37.07">2021-04-20</tspan><tspan x="161.04" y="53.73">00:00:00</tspan><tspan x="161.04" y="70.4">JST</tspan></text>
<text><tspan x="322.08" y="20.4">Wed</tspan><tspan x="322.08" y="37.07">2021-04-21</tspan><tspan x="322.08" y="53.73">00:00:00</tspan><tspan x="322.08" y="70.4">JST</tspan></text>
<text><tspan x="483.12" y="20.4">Thu</tspan><tspan x="483.12" y="37.07">2021-04-22</tspan><tspan x="483.12" y="53.73">00:00:00</tspan><tspan x="483.12" y="70.4">JST</tspan></text>
<text><tspan x="644.16" y="20.4">Fri</tspan><tspan x="644.16" y="37.07">2021-04-23</tspan><tspan x="644.16" y="53.73">00:00:00</tspan><tspan x="644.16" y="70.4">JST</tspan></text>
<text><tspan x="805.19" y="20.4">Sat</tspan><tspan x="805.19" y="37.07">2021-04-24</tspan><tspan x="805.19" y="53.73">00:00:00</tspan><tspan x="805.19" y="70.4">JST</tspan></text>
<text><tspan x="966.23" y="20.4">Sun</tspan><tspan x="966.23" y="37.07">2021-04-25</tspan><tspan x="966.23" y="53.73">00:00:00</tspan><tspan x="966.23" y="70.4">JST</tspan></text>
</g></g>

<!-- A4 -->
<g transform="translate(1752.73,1026.78)">
<rect class="k" x="0" y="0" width="1127.27" height="535.65"/>
<path class="k" d="M-4.86 21.79H0M-4.86 89.14H0M-4.86 156.49H0M-4.86 223.84H0M-4.86 291.19H0M-4.86 358.54H0M-4.86 425.89H0M-4.86 493.24H0"/>
<g class="t" text-anchor="end"><text x="-9.72" y="26.69">11</text><text x="-9.72" y="94.04">10</text><text x="-9.72" y="161.39">9</text><text x="-9.72" y="228.74">8</text><text x="-9.72" y="296.09">7</text><text x="-9.72" y="363.44">6</text><text x="-9.72" y="430.79">5</text><text x="-9.72" y="498.14">4</text></g>
</g>
<g transform="translate(1752.73,1562.43)">
<use href="#xtM" class="k"/><use href="#xtm" class="km"/>
<g class="t" text-anchor="middle">
<text y="18"><tspan x="40.26">06</tspan><tspan x="80.52">12</tspan><tspan x="120.78">18</tspan><tspan x="201.3">06</tspan><tspan x="241.56">12</tspan><tspan x="281.82">18</tspan><tspan x="362.34">06</tspan><tspan x="402.6">12</tspan><tspan x="442.86">18</tspan><tspan x="523.38">06</tspan><tspan x="563.64">12</tspan><tspan x="603.9">18</tspan><tspan x="684.42">06</tspan><tspan x="724.68">12</tspan><tspan x="764.94">18</tspan><tspan x="845.45">06</tspan><tspan x="885.71">12</tspan><tspan x="925.97">18</tspan><tspan x="1006.49">06</tspan><tspan x="1046.75">12</tspan><tspan x="1087.01">18</tspan></text>
<text><tspan x="0" y="20.4">Mon</tspan><tspan x="0" y="37.07">2021-04-19</tspan><tspan x="0" y="53.73">00:00:00</tspan><tspan x="0" y="70.4">JST</tspan></text>
<text><tspan x="161.04" y="20.4">Tue</tspan><tspan x="161.04" y="37.07">2021-04-20</tspan><tspan x="161.04" y="53.73">00:00:00</tspan><tspan x="161.04" y="70.4">JST</tspan></text>
<text><tspan x="322.08" y="20.4">Wed</tspan><tspan x="322.08" y="37.07">2021-04-21</tspan><tspan x="322.08" y="53.73">00:00:00</tspan><tspan x="322.08" y="70.4">JST</tspan></text>
<text><tspan x="483.12" y="20.4">Thu</tspan><tspan x="483.12" y="37.07">2021-04-22</tspan><tspan x="483.12" y="53.73">00:00:00</tspan><tspan x="483.12" y="70.4">JST</tspan></text>
<text><tspan x="644.16" y="20.4">Fri</tspan><tspan x="644.16" y="37.07">2021-04-23</tspan><tspan x="644.16" y="53.73">00:00:00</tspan><tspan x="644.16" y="70.4">JST</tspan></text>
<text><tspan x="805.19" y="20.4">Sat</tspan><tspan x="805.19" y="37.07">2021-04-24</tspan><tspan x="805.19" y="53.73">00:00:00</tspan><tspan x="805.19" y="70.4">JST</tspan></text>
<text><tspan x="966.23" y="20.4">Sun</tspan><tspan x="966.23" y="37.07">2021-04-25</tspan><tspan x="966.23" y="53.73">00:00:00</tspan><tspan x="966.23" y="70.4">JST</tspan></text>
</g></g>

<!-- A5 -->
<g transform="translate(400,1669.57)">
<rect class="k" x="0" y="0" width="1127.27" height="535.65"/>
<path class="k" d="M-4.86 8.77H0M-4.86 110.98H0M-4.86 213.19H0M-4.86 315.4H0M-4.86 417.61H0M-4.86 519.82H0"/>
<g class="t" text-anchor="end"><text x="-9.72" y="13.67">25000</text><text x="-9.72" y="115.88">20000</text><text x="-9.72" y="218.09">15000</text><text x="-9.72" y="320.3">10000</text><text x="-9.72" y="422.51">5000</text><text x="-9.72" y="524.72">0</text></g>
</g>
<g transform="translate(400,2205.22)">
<use href="#xtM" class="k"/><use href="#xtm" class="km"/>
<g class="t" text-anchor="middle">
<text y="18"><tspan x="40.26">06</tspan><tspan x="80.52">12</tspan><tspan x="120.78">18</tspan><tspan x="201.3">06</tspan><tspan x="241.56">12</tspan><tspan x="281.82">18</tspan><tspan x="362.34">06</tspan><tspan x="402.6">12</tspan><tspan x="442.86">18</tspan><tspan x="523.38">06</tspan><tspan x="563.64">12</tspan><tspan x="603.9">18</tspan><tspan x="684.42">06</tspan><tspan x="724.68">12</tspan><tspan x="764.94">18</tspan><tspan x="845.45">06</tspan><tspan x="885.71">12</tspan><tspan x="925.97">18</tspan><tspan x="1006.49">06</tspan><tspan x="1046.75">12</tspan><tspan x="1087.01">18</tspan></text>
<text><tspan x="0" y="20.4">Mon</tspan><tspan x="0" y="37.07">2021-04-19</tspan><tspan x="0" y="53.73">00:00:00</tspan><tspan x="0" y="70.4">JST</tspan></text>
<text><tspan x="161.04" y="20.4">Tue</tspan><tspan x="161.04" y="37.07">2021-04-20</tspan><tspan x="161.04" y="53.73">00:00:00</tspan><tspan x="161.04" y="70.4">JST</tspan></text>
<text><tspan x="322.08" y="20.4">Wed</tspan><tspan x="322.08" y="37.07">2021-04-21</tspan><tspan x="322.08" y="53.73">00:00:00</tspan><tspan x="322.08" y="70.4">JST</tspan></text>
<text><tspan x="483.12" y="20.4">Thu</tspan><tspan x="483.12" y="37.07">2021-04-22</tspan><tspan x="483.12" y="53.73">00:00:00</tspan><tspan x="483.12" y="70.4">JST</tspan></text>
<text><tspan x="644.16" y="20.4">Fri</tspan><tspan x="644.16" y="37.07">2021-04-23</tspan><tspan x="644.16" y="53.73">00:00:00</tspan><tspan x="644.16" y="70.4">JST</tspan></text>
<text><tspan x="805.19" y="20.4">Sat</tspan><tspan x="805.19" y="37.07">2021-04-24</tspan><tspan x="805.19" y="53.73">00:00:00</tspan><tspan x="805.19" y="70.4">JST</tspan></text>
<text><tspan x="966.23" y="20.4">Sun</tspan><tspan x="966.23" y="37.07">2021-04-25</tspan><tspan x="966.23" y="53.73">00:00:00</tspan><tspan x="966.23" y="70.4">JST</tspan></text>
</g></g>

<!-- A6 -->
<g transform="translate(1752.73,1669.57)">
<rect class="k" x="0" y="0" width="1127.27" height="535.65"/>
<path class="k" d="M-4.86 24.33H0M-4.86 105.55H0M-4.86 186.77H0M-4.86 267.99H0M-4.86 349.21H0M-4.86 430.43H0M-4.86 511.65H0"/>
<g class="t" text-anchor="end"><text x="-9.72" y="29.23">60000</text><text x="-9.72" y="110.45">50000</text><text x="-9.72" y="191.67">40000</text><text x="-9.72" y="272.89">30000</text><text x="-9.72" y="354.11">20000</text><text x="-9.72" y="435.33">10000</text><text x="-9.72" y="516.55">0</text></g>
</g>
<g transform="translate(1752.73,2205.22)">
<use href="#xtM" class="k"/><use href="#xtm" class="km"/>
<g class="t" text-anchor="middle">
<text y="18"><tspan x="40.26">06</tspan><tspan x="80.52">12</tspan><tspan x="120.78">18</tspan><tspan x="201.3">06</tspan><tspan x="241.56">12</tspan><tspan x="281.82">18</tspan><tspan x="362.34">06</tspan><tspan x="402.6">12</tspan><tspan x="442.86">18</tspan><tspan x="523.38">06</tspan><tspan x="563.64">12</tspan><tspan x="603.9">18</tspan><tspan x="684.42">06</tspan><tspan x="724.68">12</tspan><tspan x="764.94">18</tspan><tspan x="845.45">06</tspan><tspan x="885.71">12</tspan><tspan x="925.97">18</tspan><tspan x="1006.49">06</tspan><tspan x="1046.75">12</tspan><tspan x="1087.01">18</tspan></text>
<text><tspan x="0" y="20.4">Mon</tspan><tspan x="0" y="37.07">2021-04-19</tspan><tspan x="0" y="53.73">00:00:00</tspan><tspan x="0" y="70.4">JST</tspan></text>
<text><tspan x="161.04" y="20.4">Tue</tspan><tspan x="161.04" y="37.07">2021-04-20</tspan><tspan x="161.04" y="53.73">00:00:00</tspan><tspan x="161.04" y="70.4">JST</tspan></text>
<text><tspan x="322.08" y="20.4">Wed</tspan><tspan x="322.08" y="37.07">2021-04-21</tspan><tspan x="322.08" y="53.73">00:00:00</tspan><tspan x="322.08" y="70.4">JST</tspan></text>
<text><tspan x="483.12" y="20.4">Thu</tspan><tspan x="483.12" y="37.07">2021-04-22</tspan><tspan x="483.12" y="53.73">00:00:00</tspan><tspan x="483.12" y="70.4">JST</tspan></text>
<text><tspan x="644.16" y="20.4">Fri</tspan><tspan x="644.16" y="37.07">2021-04-23</tspan><tspan x="644.16" y="53.73">00:00:00</tspan><tspan x="644.16" y="70.4">JST</tspan></text>
<text><tspan x="805.19" y="20.4">Sat</tspan><tspan x="805.19" y="37.07">2021-04-24</tspan><tspan x="805.19" y="53.73">00:00:00</tspan><tspan x="805.19" y="70.4">JST</tspan></text>
<text><tspan x="966.23" y="20.4">Sun</tspan><tspan x="966.23" y="37.07">2021-04-25</tspan><tspan x="966.23" y="53.73">00:00:00</tspan><tspan x="966.23" y="70.4">JST</tspan></text>
</g></g>

<!-- A7 -->
<g transform="translate(400,2312.35)">
<rect class="k" x="0" y="0" width="1127.27" height="535.65"/>
<path class="k" d="M-4.86 130.21H0M-4.86 402.45H0"/>
<path class="km" d="M-2.78 48.25H0M-2.78 142.67H0M-2.78 156.6H0M-2.78 172.39H0M-2.78 190.62H0M-2.78 212.17H0M-2.78 238.55H0M-2.78 272.56H0M-2.78 320.5H0M-2.78 414.91H0M-2.78 428.83H0M-2.78 444.62H0M-2.78 462.85H0M-2.78 484.4H0M-2.78 510.78H0"/>
<g class="t" text-anchor="end"><text x="-9.72" y="135.6">10<tspan dy="-6" font-size="9.7">4</tspan></text><text x="-9.72" y="407.8">10<tspan dy="-6" font-size="9.7">3</tspan></text></g>
</g>
<g transform="translate(400,2848)">
<use href="#xtM" class="k"/><use href="#xtm" class="km"/>
<g class="t" text-anchor="middle">
<text y="18"><tspan x="40.26">06</tspan><tspan x="80.52">12</tspan><tspan x="120.78">18</tspan><tspan x="201.3">06</tspan><tspan x="241.56">12</tspan><tspan x="281.82">18</tspan><tspan x="362.34">06</tspan><tspan x="402.6">12</tspan><tspan x="442.86">18</tspan><tspan x="523.38">06</tspan><tspan x="563.64">12</tspan><tspan x="603.9">18</tspan><tspan x="684.42">06</tspan><tspan x="724.68">12</tspan><tspan x="764.94">18</tspan><tspan x="845.45">06</tspan><tspan x="885.71">12</tspan><tspan x="925.97">18</tspan><tspan x="1006.49">06</tspan><tspan x="1046.75">12</tspan><tspan x="1087.01">18</tspan></text>
<text><tspan x="0" y="20.4">Mon</tspan><tspan x="0" y="37.07">2021-04-19</tspan><tspan x="0" y="53.73">00:00:00</tspan><tspan x="0" y="70.4">JST</tspan></text>
<text><tspan x="161.04" y="20.4">Tue</tspan><tspan x="161.04" y="37.07">2021-04-20</tspan><tspan x="161.04" y="53.73">00:00:00</tspan><tspan x="161.04" y="70.4">JST</tspan></text>
<text><tspan x="322.08" y="20.4">Wed</tspan><tspan x="322.08" y="37.07">2021-04-21</tspan><tspan x="322.08" y="53.73">00:00:00</tspan><tspan x="322.08" y="70.4">JST</tspan></text>
<text><tspan x="483.12" y="20.4">Thu</tspan><tspan x="483.12" y="37.07">2021-04-22</tspan><tspan x="483.12" y="53.73">00:00:00</tspan><tspan x="483.12" y="70.4">JST</tspan></text>
<text><tspan x="644.16" y="20.4">Fri</tspan><tspan x="644.16" y="37.07">2021-04-23</tspan><tspan x="644.16" y="53.73">00:00:00</tspan><tspan x="644.16" y="70.4">JST</tspan></text>
<text><tspan x="805.19" y="20.4">Sat</tspan><tspan x="805.19" y="37.07">2021-04-24</tspan><tspan x="805.19" y="53.73">00:00:00</tspan><tspan x="805.19" y="70.4">JST</tspan></text>
<text><tspan x="966.23" y="20.4">Sun</tspan><tspan x="966.23" y="37.07">2021-04-25</tspan><tspan x="966.23" y="53.73">00:00:00</tspan><tspan x="966.23" y="70.4">JST</tspan></text>
</g></g>

<!-- A8 -->
<g transform="translate(1752.73,2312.35)">
<rect class="k" x="0" y="0" width="1127.27" height="535.65"/>
<path class="k" d="M-4.86 2.45H0M-4.86 104.41H0M-4.86 206.37H0M-4.86 308.33H0M-4.86 410.29H0M-4.86 512.25H0"/>
<path class="km" d="M-2.78 534.87H0M-2.78 528.04H0M-2.78 522.13H0M-2.78 516.92H0M-2.78 481.56H0M-2.78 463.6H0M-2.78 450.86H0M-2.78 440.98H0M-2.78 432.91H0M-2.78 426.08H0M-2.78 420.17H0M-2.78 414.96H0M-2.78 379.6H0M-2.78 361.64H0M-2.78 348.9H0M-2.78 339.02H0M-2.78 330.95H0M-2.78 324.12H0M-2.78 318.21H0M-2.78 313H0M-2.78 277.64H0M-2.78 259.68H0M-2.78 246.94H0M-2.78 237.06H0M-2.78 228.99H0M-2.78 222.16H0M-2.78 216.25H0M-2.78 211.04H0M-2.78 175.68H0M-2.78 157.72H0M-2.78 144.98H0M-2.78 135.1H0M-2.78 127.03H0M-2.78 120.2H0M-2.78 114.29H0M-2.78 109.08H0M-2.78 73.72H0M-2.78 55.76H0M-2.78 43.02H0M-2.78 33.14H0M-2.78 25.07H0M-2.78 18.24H0M-2.78 12.33H0M-2.78 7.12H0"/>
<g class="t" text-anchor="end"><text x="-9.72" y="7.85">10<tspan dy="-6" font-size="9.7">5</tspan></text><text x="-9.72" y="109.8">10<tspan dy="-6" font-size="9.7">4</tspan></text><text x="-9.72" y="211.8">10<tspan dy="-6" font-size="9.7">3</tspan></text><text x="-9.72" y="313.7">10<tspan dy="-6" font-size="9.7">2</tspan></text><text x="-9.72" y="415.7">10<tspan dy="-6" font-size="9.7">1</tspan></text><text x="-9.72" y="517.6">10<tspan dy="-6" font-size="9.7">0</tspan></text></g>
</g>
<g transform="translate(1752.73,2848)">
<use href="#xtM" class="k"/><use href="#xtm" class="km"/>
<g class="t" text-anchor="middle">
<text y="18"><tspan x="40.26">06</tspan><tspan x="80.52">12</tspan><tspan x="120.78">18</tspan><tspan x="201.3">06</tspan><tspan x="241.56">12</tspan><tspan x="281.82">18</tspan><tspan x="362.34">06</tspan><tspan x="402.6">12</tspan><tspan x="442.86">18</tspan><tspan x="523.38">06</tspan><tspan x="563.64">12</tspan><tspan x="603.9">18</tspan><tspan x="684.42">06</tspan><tspan x="724.68">12</tspan><tspan x="764.94">18</tspan><tspan x="845.45">06</tspan><tspan x="885.71">12</tspan><tspan x="925.97">18</tspan><tspan x="1006.49">06</tspan><tspan x="1046.75">12</tspan><tspan x="1087.01">18</tspan></text>
<text><tspan x="0" y="20.4">Mon</tspan><tspan x="0" y="37.07">2021-04-19</tspan><tspan x="0" y="53.73">00:00:00</tspan><tspan x="0" y="70.4">JST</tspan></text>
<text><tspan x="161.04" y="20.4">Tue</tspan><tspan x="161.04" y="37.07">2021-04-20</tspan><tspan x="161.04" y="53.73">00:00:00</tspan><tspan x="161.04" y="70.4">JST</tspan></text>
<text><tspan x="322.08" y="20.4">Wed</tspan><tspan x="322.08" y="37.07">2021-04-21</tspan><tspan x="322.08" y="53.73">00:00:00</tspan><tspan x="322.08" y="70.4">JST</tspan></text>
<text><tspan x="483.12" y="20.4">Thu</tspan><tspan x="483.12" y="37.07">2021-04-22</tspan><tspan x="483.12" y="53.73">00:00:00</tspan><tspan x="483.12" y="70.4">JST</tspan></text>
<text><tspan x="644.16" y="20.4">Fri</tspan><tspan x="644.16" y="37.07">2021-04-23</tspan><tspan x="644.16" y="53.73">00:00:00</tspan><tspan x="644.16" y="70.4">JST</tspan></text>
<text><tspan x="805.19" y="20.4">Sat</tspan><tspan x="805.19" y="37.07">2021-04-24</tspan><tspan x="805.19" y="53.73">00:00:00</tspan><tspan x="805.19" y="70.4">JST</tspan></text>
<text><tspan x="966.23" y="20.4">Sun</tspan><tspan x="966.23" y="37.07">2021-04-25</tspan><tspan x="966.23" y="53.73">00:00:00</tspan><tspan x="966.23" y="70.4">JST</tspan></text>
</g></g>

<!-- ================= TITLES ================= -->
<g class="ti" text-anchor="middle">
<text x="963.64" y="375.67">temperature</text>
<text x="2316.36" y="375.67">pressure</text>
<text x="963.64" y="1018.45">relative humidity</text>
<text x="2316.36" y="1018.45">absolute humidity</text>
<text x="963.64" y="1661.24">(equivalent) CO2</text>
<text x="2316.36" y="1661.24">Total VOC</text>
<text x="963.64" y="2304.02">(equivalent) CO2</text>
<text x="2316.36" y="2304.02">Total VOC</text>
</g>

<!-- ================= Y LABELS ================= -->
<g class="t" text-anchor="middle">
<text transform="translate(352.1,651.8) rotate(-90)">°C</text>
<text transform="translate(1698.8,651.8) rotate(-90)">hPa</text>
<text transform="translate(354.9,1294.6) rotate(-90)">%RH</text>
<text transform="translate(1712,1294.6) rotate(-90)"><tspan font-style="italic">mg</tspan>/<tspan font-style="italic">m</tspan><tspan dy="-5" font-size="9.7">3</tspan></text>
<text transform="translate(337.3,1937.4) rotate(-90)">ppm</text>
<text transform="translate(1690,1937.4) rotate(-90)">ppb</text>
<text transform="translate(355,2580.2) rotate(-90)">ppm</text>
<text transform="translate(1708,2580.2) rotate(-90)">ppb</text>
</g>

<!-- ================= LEGENDS ================= -->
<rect class="fr" x="1002.4" y="396.5" width="512.4" height="80" rx="5"/>
<line x1="1012.4" y1="417.1" x2="1062.4" y2="417.1" stroke="#1f77b4" stroke-width="2.08"/>
<circle cx="1037.4" cy="417.1" r="4.6" fill="#1f77b4"/>
<text class="lg" x="1082.4" y="426.5">m5stack-bme280-device-bme280</text>
<line x1="1012.4" y1="453.1" x2="1062.4" y2="453.1" stroke="#ff7f0e" stroke-width="2.08"/>
<circle cx="1037.4" cy="453.1" r="4.6" fill="#ff7f0e"/>
<text class="lg" x="1082.4" y="462.5">m5stack-bme280-device-scd30</text>

<rect class="fr" x="1765.23" y="396.5" width="512.4" height="44" rx="5"/>
<line x1="1775.23" y1="417.1" x2="1825.23" y2="417.1" stroke="#1f77b4" stroke-width="2.08"/>
<rect x="1795.83" y="412.7" width="8.8" height="8.8" fill="#1f77b4"/>
<text class="lg" x="1845.23" y="426.5">m5stack-bme280-device-bme280</text>

<rect class="fr" x="1002.4" y="1039.28" width="512.4" height="80" rx="5"/>
<line x1="1012.4" y1="1059.88" x2="1062.4" y2="1059.88" stroke="#1f77b4" stroke-width="2.08"/>
<rect x="1033" y="1055.48" width="8.8" height="8.8" fill="#1f77b4"/>
<text class="lg" x="1082.4" y="1069.28">m5stack-bme280-device-bme280</text>
<line x1="1012.4" y1="1095.88" x2="1062.4" y2="1095.88" stroke="#ff7f0e" stroke-width="2.08"/>
<rect x="1033" y="1091.48" width="8.8" height="8.8" fill="#ff7f0e"/>
<text class="lg" x="1082.4" y="1105.28">m5stack-bme280-device-scd30</text>

<rect class="fr" x="412.5" y="1682.07" width="485.7" height="80" rx="5"/>
<line x1="422.5" y1="1702.67" x2="472.5" y2="1702.67" stroke="#1f77b4" stroke-width="2.08"/>
<rect x="443.1" y="1698.27" width="8.8" height="8.8" fill="#1f77b4"/>
<text class="lg" x="492.5" y="1712.07">m5stack-bme280-device-sgp30</text>
<line x1="422.5" y1="1738.67" x2="472.5" y2="1738.67" stroke="#ff7f0e" stroke-width="2.08"/>
<rect x="443.1" y="1734.27" width="8.8" height="8.8" fill="#ff7f0e"/>
<text class="lg" x="492.5" y="1748.07">m5stack-bme280-device-scd30</text>

<rect class="fr" x="1765.23" y="1682.07" width="485.7" height="44" rx="5"/>
<line x1="1775.23" y1="1702.67" x2="1825.23" y2="1702.67" stroke="#1f77b4" stroke-width="2.08"/>
<rect x="1795.83" y="1698.27" width="8.8" height="8.8" fill="#1f77b4"/>
<text class="lg" x="1845.23" y="1712.07">m5stack-bme280-device-sgp30</text>

<rect class="fr" x="412.5" y="2324.85" width="485.7" height="80" rx="5"/>
<line x1="422.5" y1="2345.45" x2="472.5" y2="2345.45" stroke="#1f77b4" stroke-width="2.08"/>
<rect x="443.1" y="2341.05" width="8.8" height="8.8" fill="#1f77b4"/>
<text class="lg" x="492.5" y="2354.85">m5stack-bme280-device-sgp30</text>
<line x1="422.5" y1="2381.45" x2="472.5" y2="2381.45" stroke="#ff7f0e" stroke-width="2.08"/>
<rect x="443.1" y="2377.05" width="8.8" height="8.8" fill="#ff7f0e"/>
<text class="lg" x="492.5" y="2390.85">m5stack-bme280-device-scd30</text>

<rect class="fr" x="1765.23" y="2324.85" width="485.7" height="44" rx="5"/>
<line x1="1775.23" y1="2345.45" x2="1825.23" y2="2345.45" stroke="#1f77b4" stroke-width="2.08"/>
<rect x="1795.83" y="2341.05" width="8.8" height="8.8" fill="#1f77b4"/>
<text class="lg" x="1845.23" y="2354.85">m5stack-bme280-device-sgp30</text>
</svg>
</body></html>
